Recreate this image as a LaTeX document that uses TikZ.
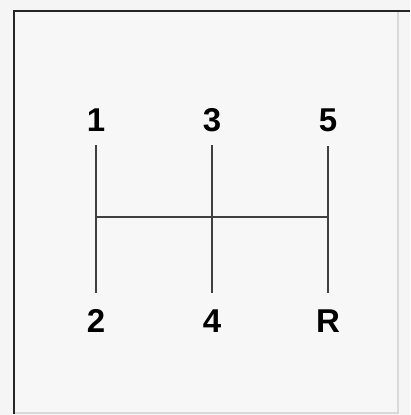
\documentclass[tikz,border=0pt]{standalone}
\usepackage{fontspec}
\setmainfont{Liberation Sans}
\begin{document}
\begin{tikzpicture}[x=1pt,y=-1pt,
  gear/.style={font=\bfseries\fontsize{33}{33}\selectfont, text=black, inner sep=0pt, anchor=base},
  rail/.style={draw=black!75, line width=1.7pt}]
\useasboundingbox (0,0) rectangle (410,415);
\fill[black!4] (0,0) rectangle (410,415);
\fill[black!3] (14,11) rectangle (398,413);
% frame
\draw[black!15, line width=1.2pt] (398,11) -- (398,413) -- (14,413);
\draw[black!85, line width=2.8pt] (14,414) -- (14,11) -- (410,11);
% labels
\node[gear] (g1) at (96,131) {1};
\node[gear] (g3) at (212,131) {3};
\node[gear] (g5) at (328,131) {5};
\node[gear] (g2) at (96,332) {2};
\node[gear] (g4) at (212,332) {4};
\node[gear] (gR) at (328,332) {R};
% rail ends
\coordinate (t1) at (96,145);
\coordinate (b1) at (96,293);
\coordinate (t3) at (212,145);
\coordinate (b3) at (212,293);
\coordinate (t5) at (328,146);
\coordinate (b5) at (328,293);
\coordinate (hl) at (96,217);
\coordinate (hr) at (328,217);
\draw[rail] (t1) -- (b1);
\draw[rail] (t3) -- (b3);
\draw[rail] (t5) -- (b5);
\draw[rail] (hl) -- (hr);
\end{tikzpicture}
\end{document}
